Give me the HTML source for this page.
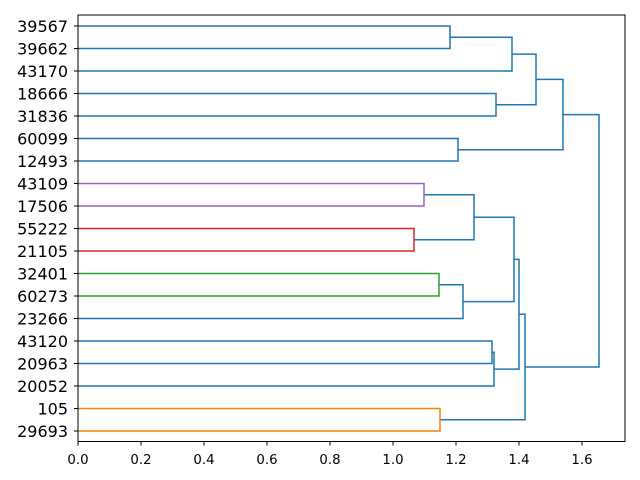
<!DOCTYPE html>
<html><head><style>html,body{margin:0;padding:0;background:#fff}svg{display:block}</style></head>
<body>
<svg width="640" height="480" xmlns="http://www.w3.org/2000/svg" font-family="DejaVu Sans, Liberation Sans, sans-serif">
<g fill="none" stroke-width="1.5">
<g stroke="#1f77b4">
<path d="M78 26H450V48.5H78"/>
<path d="M450 37.25H512V71H78"/>
<path d="M78 93.5H496V116H78"/>
<path d="M512 54.1H536V104.75H496"/>
<path d="M78 138.5H458V161H78"/>
<path d="M536 79.4H563V149.75H458"/>
<path d="M424 194.75H474V239.75H414"/>
<path d="M439 284.75H463V318.5H78"/>
<path d="M474 217.25H514V301.6H463"/>
<path d="M78 341H492V363.5H78"/>
<path d="M492 352.25H494V386H78"/>
<path d="M514 259.4H519V369.1H494"/>
<path d="M519 314.3H525V419.75H440"/>
<path d="M563 114.6H599V367H525"/>
</g>
<path stroke="#9467bd" d="M78 183.5H424V206H78"/>
<path stroke="#d62728" d="M78 228.5H414V251H78"/>
<path stroke="#2ca02c" d="M78 273.5H439V296H78"/>
<path stroke="#ff7f0e" d="M78 408.5H440V431H78"/>
</g>
<rect x="78" y="15" width="547" height="426.5" fill="none" stroke="#000" stroke-width="1"/>
<g stroke="#000">
<path d="M78 441.5v4M141 441.5v4M204 441.5v4M267 441.5v4M330 441.5v4M393 441.5v4M456 441.5v4M519 441.5v4M582 441.5v4"/>
<path d="M78 26h-4M78 48.5h-4M78 71h-4M78 93.5h-4M78 116h-4M78 138.5h-4M78 161h-4M78 183.5h-4M78 206h-4M78 228.5h-4M78 251h-4M78 273.5h-4M78 296h-4M78 318.5h-4M78 341h-4M78 363.5h-4M78 386h-4M78 408.5h-4M78 431h-4"/>
</g>
<g font-size="13.3" text-anchor="middle">
<text x="78" y="464">0.0</text><text x="141" y="464">0.2</text><text x="204" y="464">0.4</text><text x="267" y="464">0.6</text><text x="330" y="464">0.8</text><text x="393" y="464">1.0</text><text x="456" y="464">1.2</text><text x="519" y="464">1.4</text><text x="582" y="464">1.6</text>
</g>
<g font-size="16" text-anchor="end">
<text x="68" y="32">39567</text><text x="68" y="54.5">39662</text><text x="68" y="77">43170</text><text x="68" y="99.5">18666</text><text x="68" y="122">31836</text><text x="68" y="144.5">60099</text><text x="68" y="167">12493</text><text x="68" y="189.5">43109</text><text x="68" y="212">17506</text><text x="68" y="234.5">55222</text><text x="68" y="257">21105</text><text x="68" y="279.5">32401</text><text x="68" y="302">60273</text><text x="68" y="324.5">23266</text><text x="68" y="347">43120</text><text x="68" y="369.5">20963</text><text x="68" y="392">20052</text><text x="68" y="414.5">105</text><text x="68" y="437">29693</text>
</g>
</svg>
</body></html>
